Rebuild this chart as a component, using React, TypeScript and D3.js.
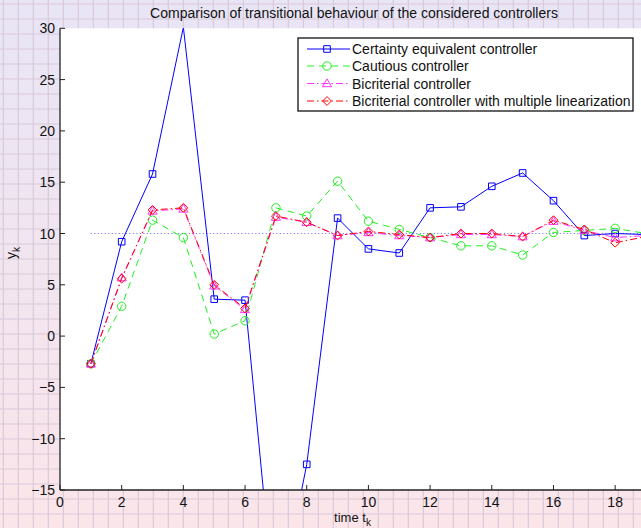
import React, { useEffect } from "react";
import * as d3 from "d3";

const steps = [1, 2, 3, 4, 5, 6, 7, 8, 9, 10, 11, 12, 13, 14, 15, 16, 17, 18, 19];
const certaintyEq = [-2.7, 9.2, 15.8, 30.1, 3.6, 3.5, -27.7, -12.5, 11.5, 8.5, 8.1, 12.5, 12.6, 14.6, 15.9, 13.2, 9.8, 10.0, 9.9];
const cautious = [-2.7, 2.9, 11.3, 9.6, 0.2, 1.5, 12.5, 11.7, 15.1, 11.2, 10.4, 9.6, 8.8, 8.8, 7.9, 10.1, 10.3, 10.5, 10.0];
const bicriterial = [-2.7, 5.7, 12.2, 12.4, 4.9, 2.6, 11.6, 11.1, 9.8, 10.1, 9.8, 9.6, 9.9, 9.9, 9.7, 11.2, 10.3, 9.6, 9.8];
const bicriterialML = [-2.7, 5.6, 12.3, 12.5, 5.0, 2.7, 11.7, 11.1, 9.8, 10.2, 9.9, 9.6, 10.0, 10.0, 9.7, 11.3, 10.4, 9.1, 9.7];
const reference = 10;
const xTicks = [0, 2, 4, 6, 8, 10, 12, 14, 16, 18];
const yTicks = [-15, -10, -5, 0, 5, 10, 15, 20, 25, 30];
const seriesNames = [
  "Certainty equivalent controller",
  "Cautious controller",
  "Bicriterial controller",
  "Bicriterial controller with multiple linearization",
];
const titleText = "Comparison of transitional behaviour of the considered controllers";

const W = 641;
const H = 528;
const left = 60;
const right = 646;
const top = 28.3;
const bottom = 490;
const FONT = "'Liberation Sans', Arial, Helvetica, sans-serif";

type Marker = "square" | "circle" | "triangle" | "diamond";

function markerPath(m: Marker, cx: number, cy: number): string {
  if (m === "square") {
    const s = 3.3;
    return `M${cx - s},${cy - s}H${cx + s}V${cy + s}H${cx - s}Z`;
  }
  if (m === "circle") {
    const r = 4.2;
    return `M${cx - r},${cy}A${r},${r} 0 1,0 ${cx + r},${cy}A${r},${r} 0 1,0 ${cx - r},${cy}Z`;
  }
  if (m === "triangle") {
    const s = 4.6;
    return `M${cx},${cy - s}L${cx + s},${cy + s * 0.7}L${cx - s},${cy + s * 0.7}Z`;
  }
  const s = 4.4;
  return `M${cx},${cy - s}L${cx + s},${cy}L${cx},${cy + s}L${cx - s},${cy}Z`;
}

export default function App() {
  useEffect(() => {
    document.body.style.margin = "0";
    document.body.style.overflow = "hidden";
  }, []);

  const x = d3.scaleLinear().domain([0, 19]).range([left, right]);
  const y = d3.scaleLinear().domain([-15, 30]).range([bottom, top]);

  const series = [
    { values: certaintyEq, color: "#0000ff", dash: "none", marker: "square" as Marker },
    { values: cautious, color: "#22ee22", dash: "7,5", marker: "circle" as Marker },
    { values: bicriterial, color: "#ff33ff", dash: "7,3,1.5,3", marker: "triangle" as Marker },
    { values: bicriterialML, color: "#ff0000", dash: "7,3,1.5,3", marker: "diamond" as Marker },
  ];

  const line = d3
    .line<number>()
    .x((_, i) => x(steps[i]))
    .y((d) => y(d));

  const gridV: number[] = d3.range(3.3, W, 15);
  const gridH: number[] = d3.range(4, H, 15);

  const legendX = 298;
  const legendY = 38;
  const legendW = 335;
  const legendH = 73;
  const rowY = [49, 66, 83.5, 101];

  return (
    <svg width={W} height={H} style={{ display: "block" }} xmlns="http://www.w3.org/2000/svg">
      <defs>
        <linearGradient id="bg" x1="0" y1="0" x2="0" y2="1">
          <stop offset="0%" stopColor="#e8e5f6" />
          <stop offset="100%" stopColor="#fbe5e9" />
        </linearGradient>
        <clipPath id="plotClip">
          <rect x={left} y={top} width={right - left} height={bottom - top} />
        </clipPath>
      </defs>
      <rect x={0} y={0} width={W} height={H} fill="url(#bg)" />
      {gridV.map((gx, i) => (
        <line key={"gv" + i} x1={gx} x2={gx} y1={0} y2={H} stroke="#d9c9d9" strokeWidth={1.2} />
      ))}
      {gridH.map((gy, i) => (
        <line key={"gh" + i} x1={0} x2={W} y1={gy} y2={gy} stroke="#d9c9d9" strokeWidth={1.2} />
      ))}
      <rect x={left} y={top} width={right - left} height={bottom - top} fill="#ffffff" />

      <text x={354} y={18} textAnchor="middle" fontFamily={FONT} fontSize={14} fill="#111">
        {titleText}
      </text>

      <g clipPath="url(#plotClip)">
        <line
          x1={x(steps[0])}
          x2={x(steps[steps.length - 1])}
          y1={y(reference)}
          y2={y(reference)}
          stroke="#6666ff"
          strokeWidth={1}
          strokeDasharray="1,2.5"
        />
        {series.map((s, si) => (
          <g key={"s" + si}>
            <path d={line(s.values) || ""} fill="none" stroke={s.color} strokeWidth={1} strokeDasharray={s.dash} />
            {s.values.map((v, i) =>
              v >= -15 && v <= 30 ? (
                <path key={i} d={markerPath(s.marker, x(steps[i]), y(v))} fill="none" stroke={s.color} strokeWidth={1} />
              ) : null
            )}
          </g>
        ))}
      </g>

      {/* axes */}
      <line x1={left} x2={left} y1={top} y2={bottom} stroke="#222" strokeWidth={1.3} />
      <line x1={left} x2={right} y1={bottom} y2={bottom} stroke="#222" strokeWidth={1.3} />
      {xTicks.map((t) => (
        <g key={"xt" + t}>
          <line x1={x(t)} x2={x(t)} y1={bottom} y2={bottom - 5} stroke="#222" strokeWidth={1} />
          <text x={x(t)} y={507} textAnchor="middle" fontFamily={FONT} fontSize={14} fill="#111">
            {t}
          </text>
        </g>
      ))}
      {yTicks.map((t) => (
        <g key={"yt" + t}>
          <line x1={left} x2={left + 5} y1={y(t)} y2={y(t)} stroke="#222" strokeWidth={1} />
          <text x={55} y={y(t) + 5} textAnchor="end" fontFamily={FONT} fontSize={14} fill="#111">
            {t < 0 ? "\u2212" + Math.abs(t) : t}
          </text>
        </g>
      ))}

      <text x={352.5} y={521.5} textAnchor="middle" fontFamily={FONT} fontSize={13} fill="#111">
        time t<tspan fontSize={10} dy={4}>k</tspan>
      </text>
      <text
        transform={`translate(16,253) rotate(-90)`}
        textAnchor="middle"
        fontFamily={FONT}
        fontSize={14}
        fill="#111"
      >
        y<tspan fontSize={10} dy={4}>k</tspan>
      </text>

      {/* legend */}
      <rect x={legendX} y={legendY} width={legendW} height={legendH} fill="#ffffff" stroke="#111" strokeWidth={1.3} />
      {series.map((s, i) => (
        <g key={"lg" + i}>
          <line x1={307} x2={350} y1={rowY[i]} y2={rowY[i]} stroke={s.color} strokeWidth={1} strokeDasharray={s.dash} />
          <path d={markerPath(s.marker, 327, rowY[i])} fill="none" stroke={s.color} strokeWidth={1} />
          <text x={352} y={rowY[i] + 5} fontFamily={FONT} fontSize={14} fill="#111">
            {seriesNames[i]}
          </text>
        </g>
      ))}
    </svg>
  );
}
